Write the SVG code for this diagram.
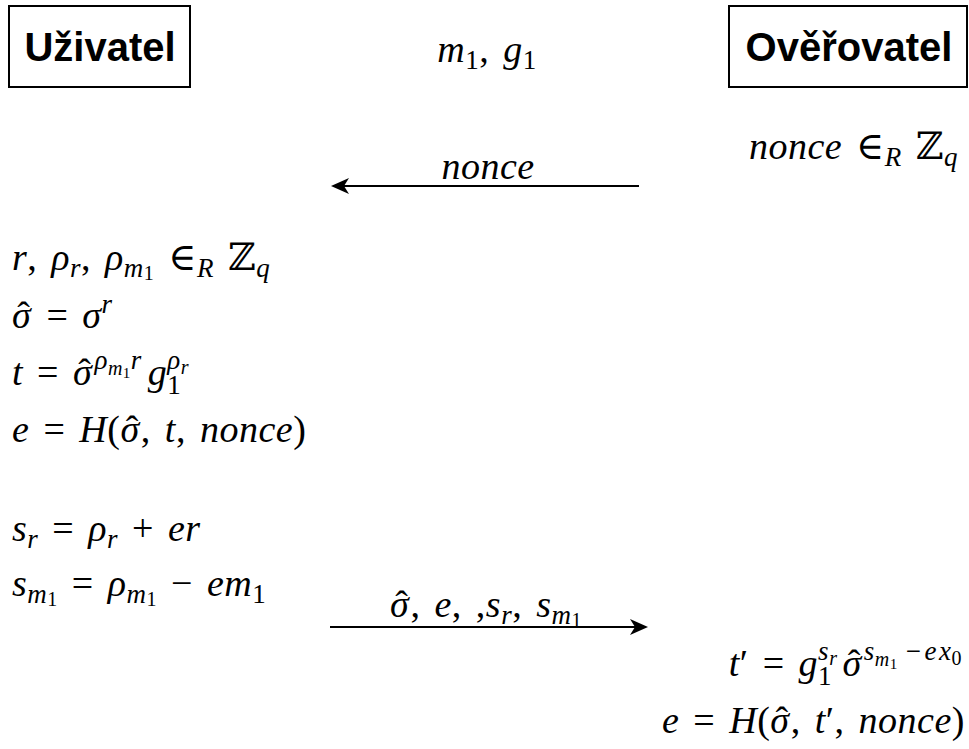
<svg xmlns="http://www.w3.org/2000/svg" width="969" height="749" viewBox="0 0 969 749">
<style>
.box{fill:#fff;stroke:#000;stroke-width:2}
.lbl{font-family:"Liberation Sans",Arial,sans-serif;font-weight:bold;font-size:40px;fill:#000}
.eq{font-family:"Liberation Serif","DejaVu Serif",serif;font-style:italic;font-size:38px;fill:#000;word-spacing:4px;letter-spacing:0.5px}
.up{font-style:normal}
.s{font-size:27px}
.ss{font-size:20px}
.sss{font-size:15px}
.conn{stroke:#000;stroke-width:2;fill:none}
</style>
<defs>
<marker id="arr" viewBox="0 0 18 16" refX="5" refY="8" markerWidth="18" markerHeight="16" orient="auto" markerUnits="userSpaceOnUse"><path d="M0,0 L18,8 L0,16 L5,8 Z" fill="#000"/></marker>
</defs>
<rect width="969" height="749" fill="#fff"/>
<g id="uzivatel"><rect class="box" x="9" y="6" width="181" height="81"/><text class="lbl" x="100" y="61" text-anchor="middle">Uživatel</text></g>
<g id="overovatel"><rect class="box" x="729" y="6" width="238" height="81"/><text class="lbl" x="849" y="61" text-anchor="middle">Ověřovatel</text></g>
<g id="public"><text class="eq" x="487" y="62" text-anchor="middle">m<tspan class="s up" dy="7">1</tspan><tspan class="up" dy="-7">, </tspan>g<tspan class="s up" dy="7">1</tspan></text></g>
<g id="verifier-nonce"><text class="eq" x="958" y="159" text-anchor="end">nonce<tspan class="up"> ∈</tspan><tspan class="s" dy="7">R</tspan><tspan class="up" dy="-7"> ℤ</tspan><tspan class="s" dy="7">q</tspan></text></g>
<g id="user-calc">
<text class="eq" x="12" y="270">r<tspan class="up">, </tspan>ρ<tspan class="s" dy="7">r</tspan><tspan class="up" dy="-7">, </tspan>ρ<tspan class="s" dy="7">m</tspan><tspan class="ss up" dy="3">1</tspan><tspan class="up" dy="-10"> ∈</tspan><tspan class="s" dy="7">R</tspan><tspan class="up" dy="-7"> ℤ</tspan><tspan class="s" dy="7">q</tspan></text>
<text class="eq" x="12" y="328">σ<tspan class="up" dx="-14">ˆ</tspan><tspan class="up" dx="2"> = </tspan>σ<tspan class="s" dy="-15">r</tspan></text>
<text class="eq" x="12" y="385">t<tspan class="up"> = </tspan>σ<tspan class="up" dx="-14">ˆ</tspan><tspan class="s" dx="3" dy="-16">ρ</tspan><tspan class="ss" dy="6">m</tspan><tspan class="sss up" dy="3">1</tspan><tspan class="s" dy="-9">r</tspan><tspan dx="6" dy="16">g</tspan><tspan class="s up" dy="9">1</tspan><tspan class="s" dx="-14" dy="-25">ρ</tspan><tspan class="ss" dy="5">r</tspan></text>
<text class="eq" x="12" y="442">e<tspan class="up"> = </tspan>H<tspan class="up">(</tspan>σ<tspan class="up" dx="-14">ˆ</tspan><tspan class="up" dx="2">, </tspan>t<tspan class="up">, </tspan>nonce<tspan class="up">)</tspan></text>
<text class="eq" x="12" y="541">s<tspan class="s" dy="7">r</tspan><tspan class="up" dy="-7"> = </tspan>ρ<tspan class="s" dy="7">r</tspan><tspan class="up" dy="-7"> + </tspan>er</text>
<text class="eq" x="12" y="596">s<tspan class="s" dy="7">m</tspan><tspan class="ss up" dy="3">1</tspan><tspan class="up" dy="-10"> = </tspan>ρ<tspan class="s" dy="7">m</tspan><tspan class="ss up" dy="3">1</tspan><tspan class="up" dy="-10"> − </tspan>em<tspan class="s up" dy="7">1</tspan></text>
</g>
<g id="verifier-check">
<text class="eq" x="962" y="676" text-anchor="end">t<tspan class="up">′ = </tspan>g<tspan class="s up" dy="9">1</tspan><tspan class="s" dx="-14" dy="-25">s</tspan><tspan class="ss" dy="5">r</tspan><tspan dx="5" dy="11">σ</tspan><tspan class="up" dx="-14">ˆ</tspan><tspan class="s" dx="3" dy="-16">s</tspan><tspan class="ss" dy="6">m</tspan><tspan class="sss up" dy="3">1</tspan><tspan class="s up" dx="8" dy="-9">−</tspan><tspan class="s" dx="3">e</tspan><tspan class="s" dx="2">x</tspan><tspan class="ss up" dy="5">0</tspan></text>
<text class="eq" x="965" y="733" text-anchor="end">e<tspan class="up"> = </tspan>H<tspan class="up">(</tspan>σ<tspan class="up" dx="-14">ˆ</tspan><tspan class="up" dx="2">, </tspan>t<tspan class="up">′, </tspan>nonce<tspan class="up">)</tspan></text>
</g>
<g id="connectors">
<line class="conn" x1="639" y1="186" x2="344" y2="186" marker-end="url(#arr)"/>
<text class="eq" x="488" y="179" text-anchor="middle">nonce</text>
<line class="conn" x1="330" y1="627" x2="635" y2="627" marker-end="url(#arr)"/>
<text class="eq" x="486" y="617" text-anchor="middle">σ<tspan class="up" dx="-14">ˆ</tspan><tspan class="up" dx="2">, </tspan>e<tspan class="up">, ,</tspan>s<tspan class="s" dy="7">r</tspan><tspan class="up" dy="-7">, </tspan>s<tspan class="s" dy="7">m</tspan><tspan class="ss up" dy="3">1</tspan></text>
</g>
</svg>
